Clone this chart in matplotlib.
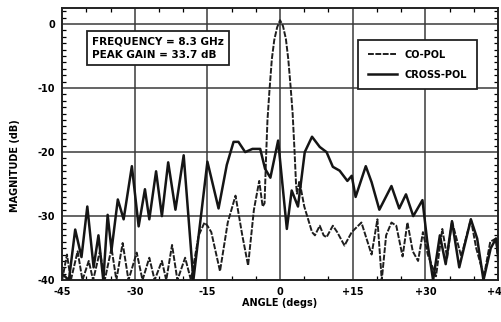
import matplotlib
matplotlib.use("Agg")
import matplotlib.pyplot as plt
from matplotlib.ticker import MultipleLocator

plt.rcParams['font.family'] = ['DejaVu Sans']

# Co-polarised pattern (angle deg, magnitude dB)
co_angle = [-45, -44, -43.2, -41.8, -40.8, -39.5, -38.6, -37.2, -36.2, -34.8, -33.8,
            -32.5, -31.3, -29.6, -28.4, -27.0, -25.9, -24.4, -23.5, -22.3, -21.2,
            -19.6, -18.4, -16.8, -15.6, -15.0, -14.2, -12.4, -10.8, -9.2, -7.8, -6.6,
            -5.4, -4.3, -3.6, -3.2, -2.9, -2.6, -2.2, -1.7, -1.2, -0.6, 0.0,
            0.6, 1.2, 1.7, 2.2, 2.6, 3.0, 3.3, 3.5, 4.0, 5.0, 6.0, 6.6, 7.2, 8.2,
            9.0, 9.6, 10.9, 11.8, 13.3, 14.8, 16.8, 18.9, 20.1, 21.0, 21.9, 23.0,
            24.0, 25.3, 26.3, 27.4, 28.5, 29.5, 30.5, 32.2, 33.5, 34.5, 35.5, 37.4,
            39.4, 40.5, 42.1, 43.4, 44.6, 45]
co_db = [-40, -36, -40, -35.5, -40, -37, -40, -35.5, -40, -35, -40,
         -34.2, -40, -35.7, -40, -36.5, -40, -37, -40, -34.5, -40,
         -36.5, -40, -33, -31, -31.5, -32.5, -38.6, -31, -26.8, -33, -37.7,
         -29, -24.5, -28.5, -28, -21, -15, -10.5, -5.5, -2.5, -0.5, 0.6,
         -0.3, -2.3, -5.5, -10, -14, -20, -25, -26.5, -24.5, -28.5, -31, -32.5, -33, -31.5,
         -33, -33.3, -31.5, -32.5, -34.6, -32.5, -31, -36, -30.5, -40, -33, -31,
         -31.5, -36.3, -31, -35.5, -37, -32.5, -36, -39.4, -32, -36.5, -30.8, -36.3,
         -30.5, -35, -39.4, -34, -33.5, -37]

# Cross-polarised pattern (angle deg, magnitude dB)
cx_angle = [-45, -43.6, -42.3, -41.0, -39.8, -38.5, -37.5, -36.5, -35.6, -34.8, -33.5,
            -32.3, -30.6, -29.2, -27.9, -27.0, -25.6, -24.4, -23.1, -21.6, -19.9,
            -17.9, -15.0, -12.7, -11.0, -9.6, -8.6, -7.2, -5.7, -4.1, -3.1, -2.0,
            -0.4, 1.4, 2.4, 3.7, 5.1, 6.6, 8.2, 9.6, 10.9, 12.3, 13.9, 14.8, 15.6,
            17.7, 18.9, 20.5, 23.0, 24.6, 26.0, 27.5, 29.4, 30.4, 31.6, 33.0, 34.2,
            35.5, 37.0, 39.4, 40.7, 42.0, 43.5, 44.6, 45]
cx_db = [-39, -40, -32.1, -36.4, -28.5, -38, -33, -40, -29.8, -35.3, -27.4,
         -30.5, -22.2, -31.6, -25.8, -30.5, -23, -30, -21.6, -29, -20.5,
         -40, -21.5, -28.8, -22, -18.4, -18.4, -20, -19.5, -19.5, -22.6, -24,
         -18.2, -32, -26, -28.5, -20, -17.6, -19.2, -20, -22.3, -22.9, -24.5, -23.7, -27,
         -22.2, -24.7, -29, -25.3, -28.8, -26.6, -30, -27.5, -34, -40, -33, -37.5,
         -30.8, -38, -30.5, -33.5, -40, -35, -33.5, -36]

xticks = [-45, -30, -15, 0, 15, 30, 45]
xtick_labels = ['-45', '-30', '-15', '0', '+15', '+30', '+45']
yticks = [-40, -30, -20, -10, 0]
ytick_labels = ['-40', '-30', '-20', '-10', '0']

fig = plt.figure(figsize=(5.01, 3.22), dpi=100)
ax = fig.add_axes([0.124, 0.130, 0.870, 0.845])

ax.plot(co_angle, co_db, color='#1e1e1e', lw=1.4, ls=(0, (3, 0.8)), label='CO-POL',
        zorder=3, solid_joinstyle='round', dash_joinstyle='round')
ax.plot(cx_angle, cx_db, color='#151515', lw=1.8, ls='-', label='CROSS-POL',
        zorder=4, solid_joinstyle='round')

ax.set_xlim(-45, 45)
ax.set_ylim(-40, 2.5)
ax.set_xticks(xticks)
ax.set_xticklabels(xtick_labels)
ax.set_yticks(yticks)
ax.set_yticklabels(ytick_labels)
ax.xaxis.set_minor_locator(MultipleLocator(5))
ax.yaxis.set_minor_locator(MultipleLocator(1))
ax.tick_params(which='both', direction='in', top=True, right=True, labelsize=7, width=0.9)
ax.tick_params(which='major', length=0)
ax.tick_params(which='minor', length=3)
for lab in ax.get_xticklabels() + ax.get_yticklabels():
    lab.set_fontweight('bold')
ax.tick_params(axis='x', pad=5)
ax.tick_params(axis='y', pad=5)

for v in [-30, -15, 0, 15, 30]:
    ax.axvline(v, color='#3a3a3a', lw=1.1, zorder=1)
for v in [-30, -20, -10, 0]:
    ax.axhline(v, color='#3a3a3a', lw=1.1, zorder=1)

for s in ax.spines.values():
    s.set_linewidth(1.4)
    s.set_color('#222222')

ax.set_xlabel('ANGLE (degs)', fontsize=7, fontweight='bold', labelpad=1)
ax.set_ylabel('MAGNITUDE (dB)', fontsize=7, fontweight='bold')
ax.yaxis.set_label_coords(-0.097, 0.42)

ax.text(0.068, 0.895, 'FREQUENCY = 8.3 GHz\nPEAK GAIN = 33.7 dB', transform=ax.transAxes,
        fontsize=7.5, fontweight='bold', va='top', ha='left', linespacing=1.45,
        bbox=dict(boxstyle='square,pad=0.5', fc='white', ec='#222222', lw=1.3), zorder=6)

leg = ax.legend(loc='upper right', bbox_to_anchor=(0.963, 0.9), frameon=True,
                fancybox=False, edgecolor='#222222', framealpha=1, handlelength=3.0,
                borderpad=1.0, labelspacing=1.0, handletextpad=0.8,
                prop={'weight': 'bold', 'size': 7})
leg.get_frame().set_linewidth(1.3)
leg.set_zorder(6)

fig.savefig('out.png', dpi=100)
